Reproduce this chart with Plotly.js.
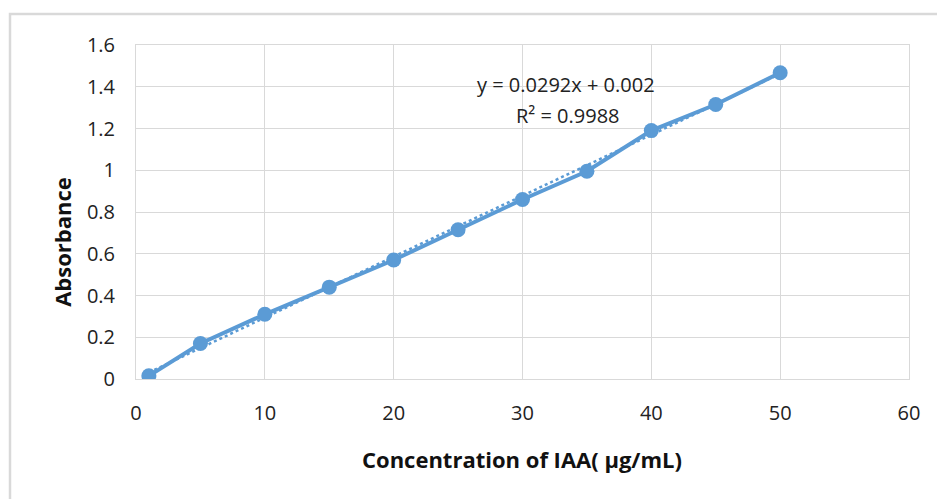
<!DOCTYPE html>
<html>
<head>
<meta charset="utf-8">
<script src="https://cdn.plot.ly/plotly-3.0.1.min.js"></script>
<style>
html,body{margin:0;padding:0;background:#fff;}
#chart{width:937px;height:499px;}
</style>
</head>
<body>
<div id="chart"></div>
<script>
// Data
const concentration = [1, 5, 10, 15, 20, 25, 30, 35, 40, 45, 50];
const absorbance = [0.015, 0.17, 0.31, 0.44, 0.57, 0.715, 0.86, 0.995, 1.19, 1.315, 1.467];
// Linear trendline as displayed on the chart
const trendSlope = 0.0292;
const trendIntercept = 0.002;
const equationText = "y = 0.0292x + 0.002";
const r2Text = "R² = 0.9988";
const xTitle = "Concentration of IAA( µg/mL)";
const yTitle = "Absorbance";
const xTickVals = [0, 10, 20, 30, 40, 50, 60];
const yTickVals = [0, 0.2, 0.4, 0.6, 0.8, 1, 1.2, 1.4, 1.6];
const yTickText = ["0", "0.2", "0.4", "0.6", "0.8", "1", "1.2", "1.4", "1.6"];

const trendX = [concentration[0], concentration[concentration.length - 1]];
const trendY = trendX.map(x => trendSlope * x + trendIntercept);

const blue = "#5B9BD5";
const font = "Open Sans, Liberation Sans, sans-serif";

const traces = [
  {
    x: trendX, y: trendY, type: "scatter", mode: "lines",
    line: {color: blue, width: 2.5, dash: "dot"},
    hoverinfo: "skip", showlegend: false
  },
  {
    x: concentration, y: absorbance, type: "scatter", mode: "lines+markers",
    line: {color: blue, width: 4},
    marker: {color: blue, size: 15},
    showlegend: false
  }
];

const layout = {
  width: 937, height: 499,
  margin: {l: 136, r: 28, t: 45, b: 120},
  paper_bgcolor: "#fff", plot_bgcolor: "#fff",
  font: {family: font, size: 20, color: "#222"},
  xaxis: {
    range: [0, 60], tickvals: xTickVals,
    showgrid: true, gridcolor: "#d9d9d9", gridwidth: 1,
    showline: true, linecolor: "#d9d9d9", linewidth: 1, mirror: true,
    zeroline: false, ticks: "", ticklabelstandoff: 16,
    tickfont: {family: font, size: 20, color: "#222"}
  },
  yaxis: {
    range: [0, 1.6], tickvals: yTickVals, ticktext: yTickText,
    showgrid: true, gridcolor: "#d9d9d9", gridwidth: 1,
    showline: true, linecolor: "#d9d9d9", linewidth: 1, mirror: true,
    zeroline: false, ticks: "", ticklabelstandoff: 16,
    tickfont: {family: font, size: 20, color: "#222"}
  },
  annotations: [
    {x: 33.4, y: 1.413, xref: "x", yref: "y", text: equationText, showarrow: false,
     font: {family: font, size: 20, color: "#222"}},
    {x: 33.5, y: 1.26, xref: "x", yref: "y", text: r2Text, showarrow: false,
     font: {family: font, size: 20, color: "#222"}},
    {x: 0.499, y: -0.24, xref: "paper", yref: "paper", text: "<b>" + xTitle + "</b>", showarrow: false,
     xanchor: "center", yanchor: "middle", font: {family: font, size: 22, color: "#111"}},
    {x: -0.096, y: 0.41, xref: "paper", yref: "paper", text: "<b>" + yTitle + "</b>", showarrow: false,
     textangle: -90, xanchor: "center", yanchor: "middle", font: {family: font, size: 22, color: "#111"}}
  ],
  shapes: [
    {type: "path", xref: "paper", yref: "paper",
     path: "M -0.163,-0.4 L -0.163,1.093 L 1.05,1.093",
     line: {color: "#d9d9d9", width: 2.5}}
  ]
};

Plotly.newPlot("chart", traces, layout, {displayModeBar: false, staticPlot: true});
</script>
</body>
</html>
